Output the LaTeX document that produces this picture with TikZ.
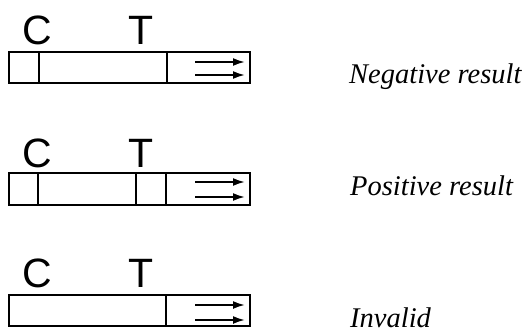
\documentclass[tikz,border=0pt]{standalone}
\usepackage{fontspec}
\setmainfont{Liberation Serif}
\setsansfont{Liberation Sans}
\usetikzlibrary{arrows.meta}
\tikzset{
 strip/.style={line width=1.4pt},
 band/.style={line width=2.2pt},
 flow/.style={line width=2pt,-{Latex[length=12pt,width=8pt]}},
 zone/.style={font=\sffamily\fontsize{41}{41}\selectfont,anchor=base,inner sep=0pt},
 result/.style={font=\itshape\fontsize{28.5}{28.5}\selectfont,anchor=base west,inner sep=0pt}
}
\begin{document}
\begin{tikzpicture}[x=1pt,y=-1pt]
 \useasboundingbox (0,0) rectangle (528,332);
 \node[zone] (c1) at (37,44) {C};
 \node[zone] (t1) at (141,44) {T};
 \draw[strip] (9,52) rectangle (250,83);
 \draw[band] (39,52)--(39,83);
 \draw[strip] (167,52)--(167,83);
 \draw[flow] (195,62)--(245,62);
 \draw[flow] (195,75)--(245,75);
 \node[result] (neg) at (349,83) {Negative result};
 \node[zone] (c2) at (37,167) {C};
 \node[zone] (t2) at (141,167) {T};
 \draw[strip] (9,173) rectangle (250,205);
 \draw[band] (38,173)--(38,205);
 \draw[band] (136,173)--(136,205);
 \draw[strip] (166,173)--(166,205);
 \draw[flow] (195,182)--(245,182);
 \draw[flow] (195,197)--(245,197);
 \node[result] (pos) at (350,195) {Positive result};
 \node[zone] (c3) at (37,287) {C};
 \node[zone] (t3) at (141,287) {T};
 \draw[strip] (9,295) rectangle (250,326);
 \draw[strip] (166,295)--(166,326);
 \draw[flow] (195,305)--(245,305);
 \draw[flow] (195,320)--(245,320);
 \node[result] (inv) at (350,327) {Invalid};
\end{tikzpicture}
\end{document}
